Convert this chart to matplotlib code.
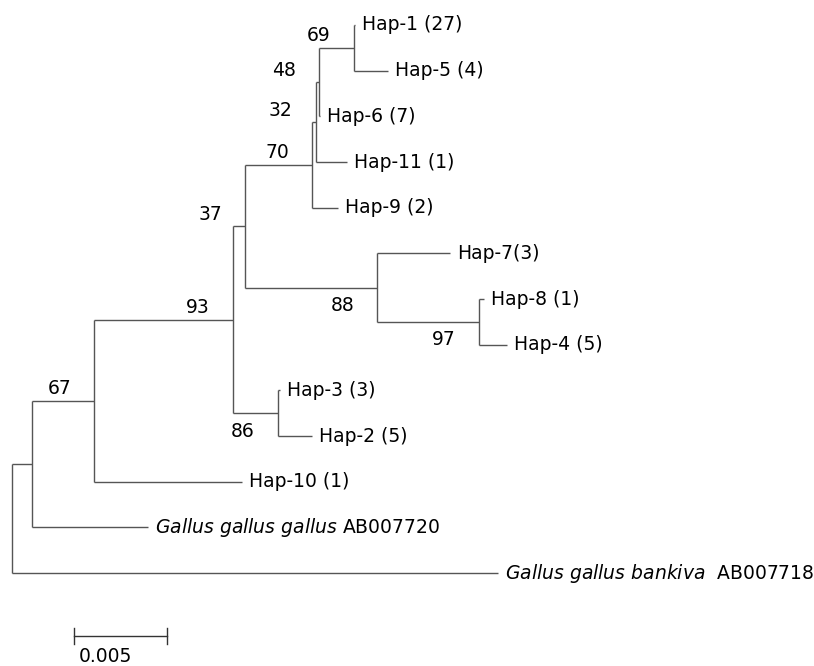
import matplotlib
matplotlib.use("Agg")
import matplotlib.pyplot as plt

plt.rcParams['font.family'] = ['DejaVu Sans']
plt.rcParams['mathtext.fontset'] = 'dejavusans'

# ---- tree data ----
# internal nodes: name, parent, branch length, bootstrap, label side
node_names   = ["root", "A", "B", "C", "D", "E", "J", "K", "F", "G", "I", "H"]
node_parents = [None, "root", "A", "B", "C", "C", "E", "J", "E", "F", "G", "I"]
node_lengths = [0.0, 0.00108, 0.00333, 0.00747, 0.00242, 0.00065, 0.0071, 0.00548,
                0.0036, 0.0002, 0.00016, 0.00188]
node_boot    = [None, None, 67, 93, 86, 37, 88, 97, 70, 32, 48, 69]
node_side    = [None, None, "above", "above", "below", "above", "below", "below",
                "above", "above", "above", "above"]

# leaves in display order (top to bottom)
leaf_labels  = ["Hap-1 (27)", "Hap-5 (4)", "Hap-6 (7)", "Hap-11 (1)", "Hap-9 (2)",
                "Hap-7(3)", "Hap-8 (1)", "Hap-4 (5)", "Hap-3 (3)", "Hap-2 (5)",
                "Hap-10 (1)", r"$\it{Gallus\ gallus\ gallus}$ AB007720",
                r"$\it{Gallus\ gallus\ bankiva}$  AB007718"]
leaf_parents = ["H", "H", "I", "G", "F", "J", "K", "K", "D", "D", "B", "A", "root"]
leaf_lengths = [0.00005, 0.00183, 0.00005, 0.00167, 0.0014, 0.00392, 0.00027, 0.0015,
                0.0001, 0.00183, 0.00796, 0.00624, 0.02613]

scale_length = 0.005
scale_label = "0.005"

# ---- layout ----
W, H = 814, 666
PX_PER_UNIT = 93 / 0.005
ROOT_PX = 12
TOP_PX = 25
ROW_PX = 45.67

fig = plt.figure(figsize=(W / 100, H / 100), dpi=100)
ax = fig.add_axes([0, 0, 1, 1])
ax.set_xlim(-ROOT_PX / PX_PER_UNIT, (W - ROOT_PX) / PX_PER_UNIT)
ax.set_ylim((H - TOP_PX) / ROW_PX, -TOP_PX / ROW_PX)
ax.axis('off')

LC = '#555555'
LW = 1.0
FS = 13.5

# compute x positions
parent_of = dict(zip(node_names, node_parents))
length_of = dict(zip(node_names, node_lengths))
xpos = {}
def get_x(n):
    if n in xpos:
        return xpos[n]
    p = parent_of[n]
    xpos[n] = 0.0 if p is None else get_x(p) + length_of[n]
    return xpos[n]
for n in node_names:
    get_x(n)

# children map
children = {n: [] for n in node_names}
for n, p in zip(node_names, node_parents):
    if p is not None:
        children[p].append(("node", n))
for i, p in enumerate(leaf_parents):
    children[p].append(("leaf", i))

ypos = {}
def get_y(kind, key):
    if kind == "leaf":
        return float(key)
    if key in ypos:
        return ypos[key]
    ys = [get_y(k, c) for k, c in children[key]]
    ypos[key] = (min(ys) + max(ys)) / 2
    return ypos[key]
for n in node_names:
    get_y("node", n)

# draw vertical lines at internal nodes
for n in node_names:
    ys = [get_y(k, c) for k, c in children[n]]
    ax.plot([xpos[n], xpos[n]], [min(ys), max(ys)], color=LC, lw=LW,
            solid_capstyle='butt')

# horizontal branches for internal nodes
for n, p in zip(node_names, node_parents):
    if p is None:
        continue
    ax.plot([xpos[p], xpos[n]], [ypos[n], ypos[n]], color=LC, lw=LW,
            solid_capstyle='butt')

# leaves
for i, (lab, p, L) in enumerate(zip(leaf_labels, leaf_parents, leaf_lengths)):
    x0 = xpos[p]
    x1 = x0 + L
    ax.plot([x0, x1], [i, i], color=LC, lw=LW, solid_capstyle='butt')
    ax.annotate(lab, xy=(x1, i), xytext=(7, 0), textcoords='offset pixels',
                ha='left', va='center', fontsize=FS, color='black')

# bootstrap labels
for n, b, s in zip(node_names, node_boot, node_side):
    if b is None:
        continue
    dy = 12 if s == "above" else -18
    ax.annotate(str(b), xy=(xpos[n], ypos[n]), xytext=(-23, dy),
                textcoords='offset pixels', ha='right', va='center',
                fontsize=FS, color='black')

# scale bar
sb_x0 = (74 - ROOT_PX) / PX_PER_UNIT
sb_y = (636 - TOP_PX) / ROW_PX
tick = 8 / ROW_PX
ax.plot([sb_x0, sb_x0 + scale_length], [sb_y, sb_y], color='#333333', lw=LW)
for xx in (sb_x0, sb_x0 + scale_length):
    ax.plot([xx, xx], [sb_y - tick, sb_y + tick], color='#333333', lw=LW)
ax.annotate(scale_label, xy=(sb_x0, sb_y), xytext=(5, -21),
            textcoords='offset pixels', ha='left', va='center',
            fontsize=FS, color='black')

fig.savefig("out.png", dpi=100)
